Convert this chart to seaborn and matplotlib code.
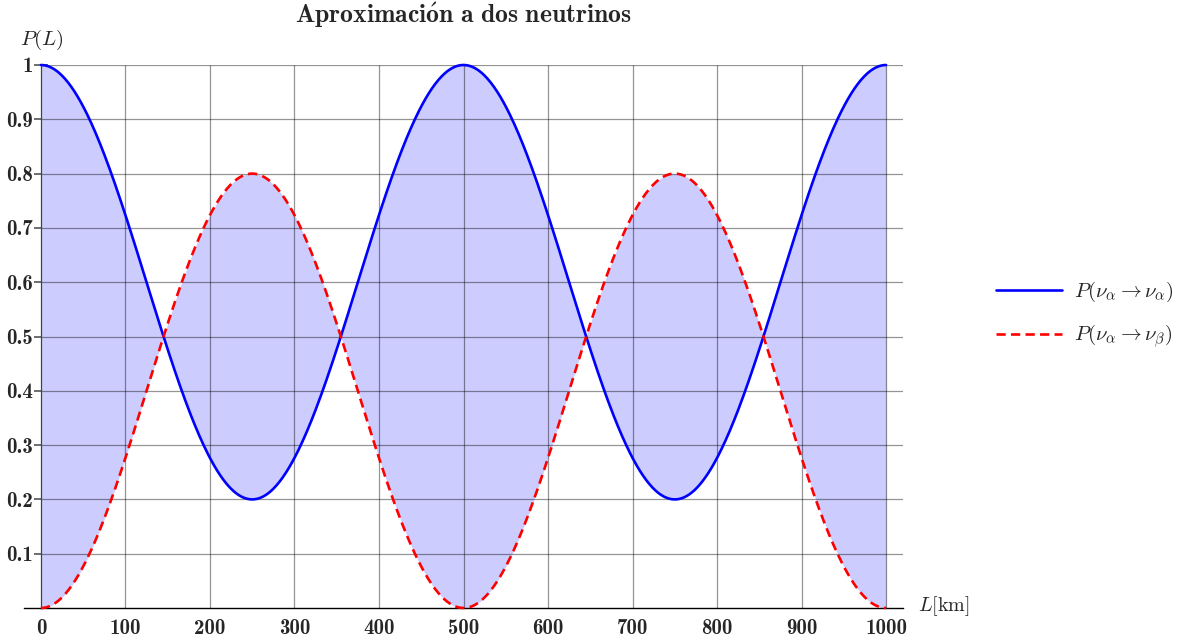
import numpy as np
import pandas as pd
import matplotlib
matplotlib.use("Agg")
import matplotlib.pyplot as plt
import seaborn as sns

# Two-flavour oscillation parameters
mixing_amplitude = 0.8      # sin^2(2*theta)
oscillation_length = 500.0  # km, distance between survival maxima
L_km = np.linspace(0, 1000, 801)

x_ticks = [0, 100, 200, 300, 400, 500, 600, 700, 800, 900, 1000]
y_ticks = [0.1, 0.2, 0.3, 0.4, 0.5, 0.6, 0.7, 0.8, 0.9, 1.0]
y_tick_labels = ["0.1", "0.2", "0.3", "0.4", "0.5", "0.6", "0.7", "0.8", "0.9", "1"]

label_surv = r"$P(\nu_\alpha \rightarrow \nu_\alpha)$"
label_app = r"$P(\nu_\alpha \rightarrow \nu_\beta)$"

p_app = mixing_amplitude * np.sin(np.pi * L_km / oscillation_length) ** 2
p_surv = 1.0 - p_app

df = pd.DataFrame({
    "L": np.concatenate([L_km, L_km]),
    "P": np.concatenate([p_surv, p_app]),
    "canal": [label_surv] * len(L_km) + [label_app] * len(L_km),
})

sns.set_theme(style="white")
plt.rcParams["mathtext.fontset"] = "cm"
plt.rcParams["font.family"] = ["cmr10", "DejaVu Serif"]
plt.rcParams["axes.formatter.use_mathtext"] = True

fig = plt.figure(figsize=(11.78, 6.39), dpi=100)
W, H = 1178, 639
ax = fig.add_axes([24 / W, 1 - 608 / H, (903 - 24) / W, (608 - 65) / H])

ax.set_xlim(-20, 1020)
ax.set_ylim(0, 1)

# shaded band between the two probabilities
ax.fill_between(L_km, p_app, p_surv, color="#ccccff", lw=0, zorder=1)

# grid drawn only over the data region, translucent so it shows through the band
ax.hlines(y_ticks, 0, 1020, colors="black", alpha=0.42, lw=0.9, zorder=2)
ax.vlines(x_ticks[1:], 0, 1, colors="black", alpha=0.42, lw=0.9, zorder=2)

sns.lineplot(data=df, x="L", y="P", hue="canal", style="canal",
             palette={label_surv: "#0000ff", label_app: "#ff0000"},
             dashes={label_surv: "", label_app: (3.5, 2)},
             lw=1.9, ax=ax, zorder=3, legend=True)
for ln in ax.get_lines():
    ln.set_clip_on(False)

for s in ["top", "right"]:
    ax.spines[s].set_visible(False)
ax.spines["bottom"].set_color("black")
ax.spines["bottom"].set_linewidth(1.0)
ax.spines["left"].set_position(("data", 0))
ax.spines["left"].set_color("#444444")
ax.spines["left"].set_linewidth(0.9)
ax.spines["left"].set_zorder(2.5)

ax.set_xticks(x_ticks)
ax.set_xticklabels([str(t) for t in x_ticks])
ax.set_yticks(y_ticks)
ax.set_yticklabels(y_tick_labels)
ax.tick_params(axis="x", direction="in", length=4, width=1.2, color="#555555",
               pad=8, labelsize=15)
ax.tick_params(axis="y", direction="inout", length=10, width=1.2, color="#555555",
               pad=1, labelsize=15, left=True)
for lab in ax.get_xticklabels() + ax.get_yticklabels():
    lab.set_fontfamily(["cmb10", "DejaVu Serif"])

ax.set_xlabel("")
ax.set_ylabel("")
fig.text(20 / W, 1 - 40 / H, r"$P(L)$", fontsize=15, ha="left", va="center")
fig.text(918 / W, 1 - 606 / H, r"$L[\mathrm{km}]$", fontsize=14.5, ha="left", va="center")

fig.text(463 / W, 1 - 15 / H, r"$\mathbf{Aproximaci\acute{o}n\ a\ dos\ neutrinos}$",
         fontsize=18.5, ha="center", va="center")

handles, labels = ax.get_legend_handles_labels()
ax.legend(handles, labels, loc="center left", bbox_to_anchor=(996 / W, 1 - 315 / H),
          bbox_transform=fig.transFigure, frameon=False, fontsize=15,
          borderpad=0, borderaxespad=0,
          handlelength=3.15, handletextpad=0.6, labelspacing=0.9, title=None)

fig.savefig("out.png", dpi=100)
